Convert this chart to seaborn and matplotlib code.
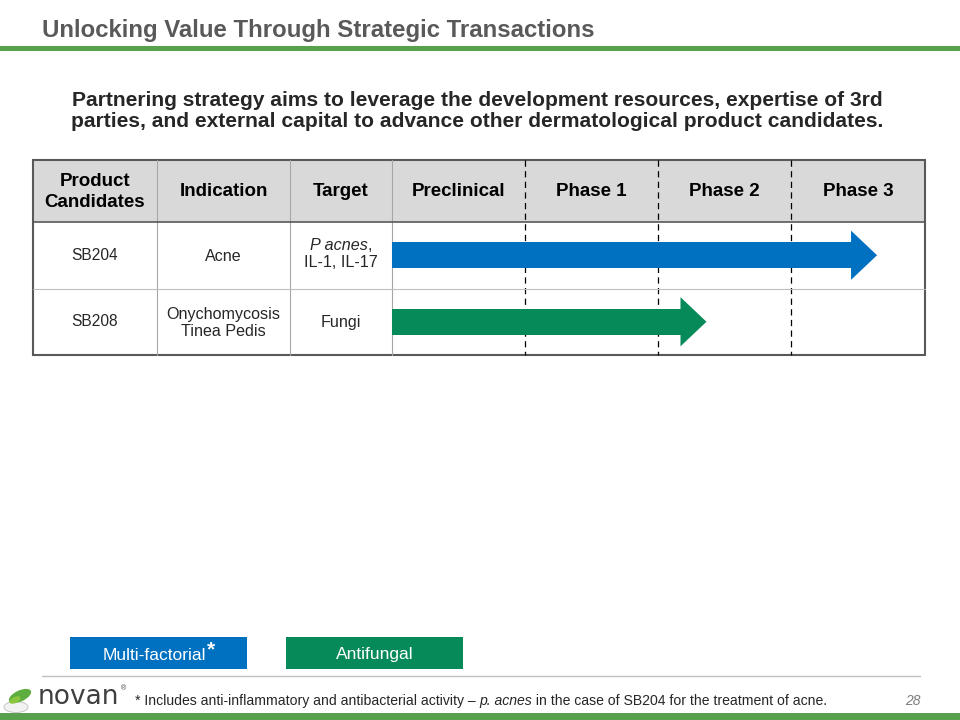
import numpy as np
import matplotlib.pyplot as plt
from matplotlib.patches import Rectangle, Polygon, Ellipse
import seaborn as sns

sns.set_style("white")
plt.rcParams['font.family'] = ['Liberation Sans', 'DejaVu Sans']

# ---- data ----
title = "Unlocking Value Through Strategic Transactions"
subtitle = ("Partnering strategy aims to leverage the development resources, expertise of 3rd\n"
            "parties, and external capital to advance other dermatological product candidates.")
columns = ["Product\nCandidates", "Indication", "Target"]
phases = ["Preclinical", "Phase 1", "Phase 2", "Phase 3"]
candidates = ["SB204", "SB208"]
indications = ["Acne", "Onychomycosis\nTinea Pedis"]
targets = ["IL-1, IL-17", "Fungi"]
progress = [3.64, 2.36]          # arrow tip, in phase units (0 = start of preclinical)
categories = ["Multi-factorial", "Antifungal"]
colors = ["#0070C0", "#078A5A"]
footnote = ["* Includes anti-inflammatory and antibacterial activity \u2013 ",
            "p. acnes", " in the case of SB204 for the treatment of acne."]
page = "28"

GREEN = "#58A14C"
GREY_T = "#595959"
TXT = "#262626"

fig = plt.figure(figsize=(9.6, 7.2), dpi=100)
bg = fig.add_axes([0, 0, 1, 1])
bg.set_xlim(0, 960)
bg.set_ylim(720, 0)
bg.axis('off')
renderer = fig.canvas.get_renderer()

# header
bg.text(42, 30, title, fontsize=17.3, fontweight='bold', color=GREY_T,
        va='center', ha='left')
bg.add_patch(Rectangle((0, 46), 960, 5, color=GREEN, lw=0))
bg.text(477, 111, subtitle, fontsize=15.1, fontweight='bold', color=TXT,
        va='center', ha='center', linespacing=1.1)

# table geometry (pixels)
col_x = [33, 157, 290, 392, 525, 658, 791, 925]
row_y = [160, 222, 289, 355]

bg.add_patch(Rectangle((col_x[0], row_y[0]), col_x[-1] - col_x[0], row_y[1] - row_y[0],
                       facecolor='#D9D9D9', edgecolor='none'))
for x in col_x[1:4]:
    bg.plot([x, x], [row_y[0], row_y[-1]], color='#A6A6A6', lw=0.8)
for x in col_x[4:7]:
    bg.plot([x, x], [row_y[0], row_y[-1]], color='black', lw=0.9, ls=(0, (5, 3.5)))
bg.plot([col_x[0], col_x[-1]], [row_y[1]] * 2, color='#595959', lw=1.2)
bg.plot([col_x[0], col_x[-1]], [row_y[2]] * 2, color='#BFBFBF', lw=0.8)
bg.add_patch(Rectangle((col_x[0], row_y[0]), col_x[-1] - col_x[0], row_y[-1] - row_y[0],
                       facecolor='none', edgecolor='#595959', lw=1.5))

hy = (row_y[0] + row_y[1]) / 2
for i, lab in enumerate(columns + phases):
    cx = (col_x[i] + col_x[i + 1]) / 2
    bg.text(cx, hy + 1, lab, fontsize=13.5, fontweight='bold', color='black',
            ha='center', va='center', linespacing=1.25)

for r in range(len(candidates)):
    cy = (row_y[r + 1] + row_y[r + 2]) / 2
    bg.text((col_x[0] + col_x[1]) / 2, cy, candidates[r], fontsize=11.2, color=TXT,
            ha='center', va='center')
    bg.text((col_x[1] + col_x[2]) / 2, cy + 1, indications[r], fontsize=11.6, color=TXT,
            ha='center', va='center', linespacing=1.2)

# target cell of SB204: italic organism + comma, then second line
tx = (col_x[2] + col_x[3]) / 2
cy0 = (row_y[1] + row_y[2]) / 2
t_it = bg.text(0, 0, "P acnes", fontsize=11.6, style='italic', color=TXT)
t_cm = bg.text(0, 0, ",", fontsize=11.6, color=TXT)
w_it = t_it.get_window_extent(renderer).width
w_cm = t_cm.get_window_extent(renderer).width
x0 = tx - (w_it + w_cm) / 2
t_it.set_position((x0, cy0 - 3))
t_it.set_va('bottom')
t_cm.set_position((x0 + w_it, cy0 - 3))
t_cm.set_va('bottom')
bg.text(tx, cy0 - 0.5, targets[0], fontsize=11.6, color=TXT, ha='center', va='top')
bg.text(tx, (row_y[2] + row_y[3]) / 2, targets[1], fontsize=11.6, color=TXT,
        ha='center', va='center')

# pipeline arrows on their own axes (x in phase units)
ax = fig.add_axes([col_x[3] / 960, 1 - row_y[3] / 720,
                   (col_x[7] - col_x[3]) / 960, (row_y[3] - row_y[1]) / 720])
head_len = 0.19
shaft_w = 0.39
head_w = 0.74
shaft = [p - head_len for p in progress]
sns.barplot(x=shaft, y=candidates, hue=candidates, palette=colors, orient='h',
            width=shaft_w, legend=False, ax=ax, saturation=1, linewidth=0)
for i, p in enumerate(progress):
    ax.add_patch(Polygon([[p - head_len - 0.005, i - head_w / 2], [p, i],
                          [p - head_len - 0.005, i + head_w / 2]],
                         closed=True, facecolor=colors[i], edgecolor='none'))
ax.set_xlim(0, len(phases))
ax.set_ylim(1.5, -0.5)
ax.axis('off')
ax.patch.set_alpha(0)

# legend boxes
box_x = [70, 286]
for i, lab in enumerate(categories):
    bg.add_patch(Rectangle((box_x[i], 637), 177, 32, facecolor=colors[i], edgecolor='none'))
    t = bg.text(box_x[i] + 88.5 - (4 if i == 0 else 0), 655, lab, fontsize=12.5,
                color='white', ha='center', va='center')
    if i == 0:
        bb = t.get_window_extent(renderer)
        bg.text(bb.x1 + 1, 650, "*", fontsize=15, color='white', fontweight='bold',
                ha='left', va='center')

# footer
bg.plot([42, 920], [676, 676], color='#BFBFBF', lw=1)
bg.add_patch(Rectangle((0, 713), 960, 7, color=GREEN, lw=0))

x = 135
for j, part in enumerate(footnote):
    t = bg.text(x, 701, part, fontsize=10.1, color=TXT,
                style='italic' if j == 1 else 'normal', ha='left', va='center')
    x += t.get_window_extent(renderer).width
bg.text(921, 701, page, fontsize=10, style='italic', color='#7F7F7F',
        ha='right', va='center')

# logo
bg.add_patch(Ellipse((16, 707), 24, 11, facecolor='#F2F2F2', edgecolor='#BFBFBF', lw=0.6))
bg.add_patch(Ellipse((20, 696), 24, 11, angle=-25, facecolor='#5DAE3F', edgecolor='none'))
bg.add_patch(Ellipse((15, 700), 12, 6, angle=-25, facecolor='#8CC63F', edgecolor='none'))
bg.text(38, 697, "novan", fontsize=19, color='#3F3F3F', family=['DejaVu Sans'],
        fontweight='medium', ha='left', va='center')
bg.text(121, 689, "\u00ae", fontsize=5, color='#3F3F3F', ha='left', va='center')

fig.savefig("out.png", dpi=100)
